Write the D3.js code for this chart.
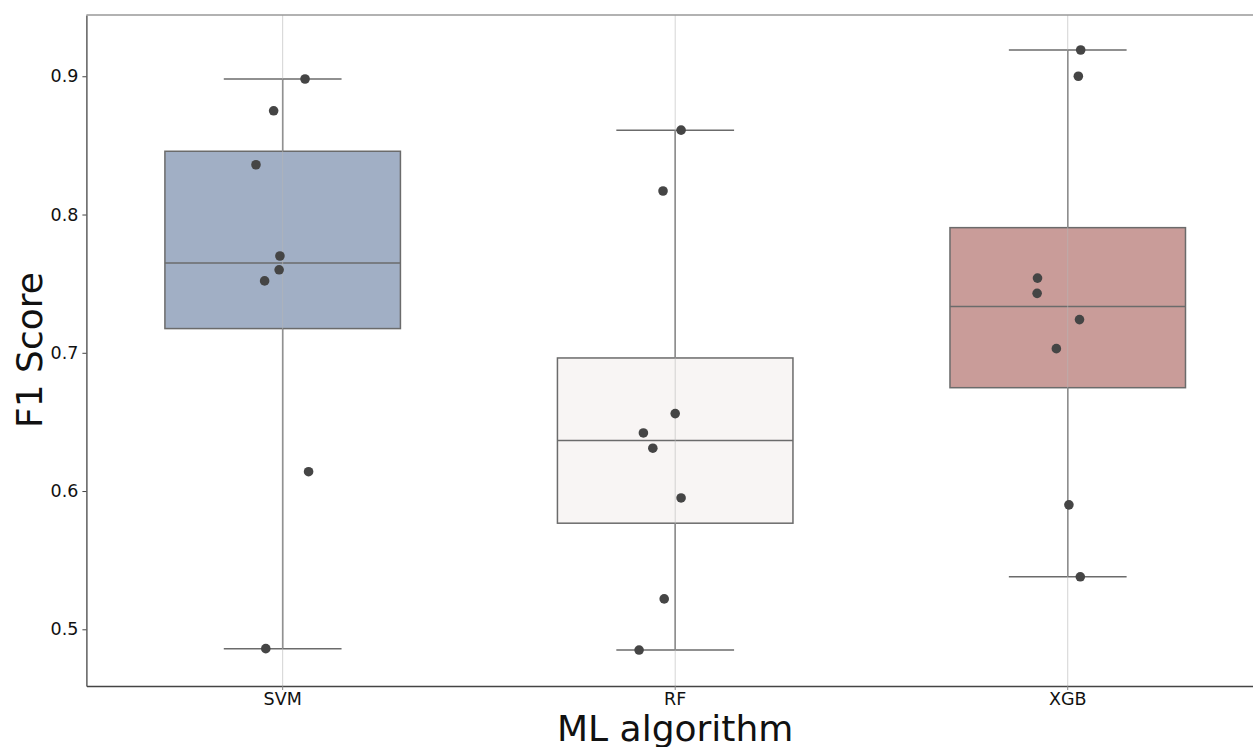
<!DOCTYPE html>
<html>
<head>
<meta charset="utf-8">
<script src="https://cdn.jsdelivr.net/npm/d3@7"></script>
<style>
  body { margin: 0; background: #fff; }
  svg { display: block; }
  text { font-family: "DejaVu Sans", sans-serif; fill: #111; }
</style>
</head>
<body>
<div id="chart"></div>
<script>
// algorithms on the x axis
const algorithms = ['SVM', 'RF', 'XGB'];

// F1 scores per algorithm (8 runs each)
const svmScores = [0.898, 0.875, 0.836, 0.770, 0.760, 0.752, 0.614, 0.486];
const rfScores = [0.861, 0.817, 0.656, 0.642, 0.631, 0.595, 0.522, 0.485];
const xgbScores = [0.919, 0.900, 0.754, 0.743, 0.724, 0.703, 0.590, 0.538];

// strip plot jitter, as a fraction of the category step
const svmJitter = [0.057, -0.023, -0.068, -0.007, -0.009, -0.046, 0.066, -0.043];
const rfJitter = [0.015, -0.031, 0.000, -0.081, -0.057, 0.015, -0.028, -0.092];
const xgbJitter = [0.033, 0.027, -0.077, -0.078, 0.030, -0.029, 0.003, 0.032];

const yTicks = [0.5, 0.6, 0.7, 0.8, 0.9];
const yDomain = [0.459, 0.9443];

const boxColors = ['#a1afc5', '#f8f5f4', '#c99c99'];

const scores = [svmScores, rfScores, xgbScores];
const jitter = [svmJitter, rfJitter, xgbJitter];

const width = 1253, height = 747;
const margin = {left: 86.4, top: 15, bottom: 686};
const plotRight = 1264;

const svg = d3.select('#chart').append('svg')
    .attr('width', width)
    .attr('height', height);

const x = d3.scaleBand()
    .domain(algorithms)
    .range([margin.left, plotRight])
    .padding(0);

const y = d3.scaleLinear()
    .domain(yDomain)
    .range([margin.bottom, margin.top]);

const step = x.bandwidth();
const center = d => x(d) + step / 2;

const boxData = algorithms.map((name, i) => {
    const s = scores[i].slice().sort(d3.ascending);
    return {
        name: name,
        color: boxColors[i],
        q1: d3.quantile(s, 0.25),
        med: d3.quantile(s, 0.5),
        q3: d3.quantile(s, 0.75),
        lo: d3.min(s),
        hi: d3.max(s)
    };
});

const edge = '#6b6b6b';
const boxW = step * 0.6;
const capW = step * 0.3;

const boxes = svg.append('g').attr('class', 'boxes');

boxData.forEach(b => {
    const cx = center(b.name);
    const g = boxes.append('g');
    // whiskers
    g.append('line')
        .attr('x1', cx).attr('x2', cx)
        .attr('y1', y(b.q3)).attr('y2', y(b.hi))
        .attr('stroke', edge).attr('stroke-width', 1.5);
    g.append('line')
        .attr('x1', cx).attr('x2', cx)
        .attr('y1', y(b.q1)).attr('y2', y(b.lo))
        .attr('stroke', edge).attr('stroke-width', 1.5);
    // caps
    [b.lo, b.hi].forEach(v => {
        g.append('line')
            .attr('x1', cx - capW / 2).attr('x2', cx + capW / 2)
            .attr('y1', y(v)).attr('y2', y(v))
            .attr('stroke', edge).attr('stroke-width', 1.5);
    });
    g.append('rect')
        .attr('x', cx - boxW / 2)
        .attr('y', y(b.q3))
        .attr('width', boxW)
        .attr('height', y(b.q1) - y(b.q3))
        .attr('fill', b.color)
        .attr('stroke', edge)
        .attr('stroke-width', 1.5);
    g.append('line')
        .attr('x1', cx - boxW / 2).attr('x2', cx + boxW / 2)
        .attr('y1', y(b.med)).attr('y2', y(b.med))
        .attr('stroke', edge).attr('stroke-width', 1.5);
});

// vertical grid lines drawn over the boxes, faint
svg.append('g')
    .selectAll('line')
    .data(algorithms)
    .join('line')
    .attr('x1', d => center(d)).attr('x2', d => center(d))
    .attr('y1', margin.top).attr('y2', margin.bottom)
    .attr('stroke', '#b8b8b8')
    .attr('stroke-opacity', 0.6)
    .attr('stroke-width', 1);

// points
const pts = [];
algorithms.forEach((name, i) => {
    scores[i].forEach((v, j) => pts.push({name: name, v: v, jit: jitter[i][j]}));
});

svg.append('g')
    .selectAll('circle')
    .data(pts)
    .join('circle')
    .attr('cx', d => center(d.name) + d.jit * step)
    .attr('cy', d => y(d.v))
    .attr('r', 4.8)
    .attr('fill', '#454545');

// axes
const yAxis = svg.append('g')
    .attr('transform', `translate(${margin.left},0)`)
    .call(d3.axisLeft(y).tickValues(yTicks).tickFormat(d3.format('.1f'))
        .tickSize(4).tickSizeOuter(0).tickPadding(4));
yAxis.select('.domain').attr('stroke', '#444').attr('stroke-width', 1.3);
yAxis.selectAll('.tick line').attr('stroke', '#444');
yAxis.selectAll('.tick text').style('font-size', '17.5px').attr('fill', '#111');

const xAxis = svg.append('g')
    .attr('transform', `translate(0,${margin.bottom})`)
    .call(d3.axisBottom(x).tickSize(4).tickSizeOuter(0).tickPadding(3));
xAxis.select('.domain').attr('stroke', '#444').attr('stroke-width', 1.3);
xAxis.selectAll('.tick line').attr('stroke', '#888');
xAxis.selectAll('.tick text').style('font-size', '17.5px').attr('fill', '#111');

// top spine
svg.append('line')
    .attr('x1', margin.left).attr('x2', plotRight)
    .attr('y1', margin.top).attr('y2', margin.top)
    .attr('stroke', '#999').attr('stroke-width', 1.6);

// labels
svg.append('text')
    .attr('x', center('RF'))
    .attr('y', 741)
    .attr('text-anchor', 'middle')
    .style('font-size', '36px')
    .text('ML algorithm');

svg.append('text')
    .attr('transform', 'translate(42,350) rotate(-90)')
    .attr('text-anchor', 'middle')
    .style('font-size', '36px')
    .text('F1 Score');
</script>
</body>
</html>
